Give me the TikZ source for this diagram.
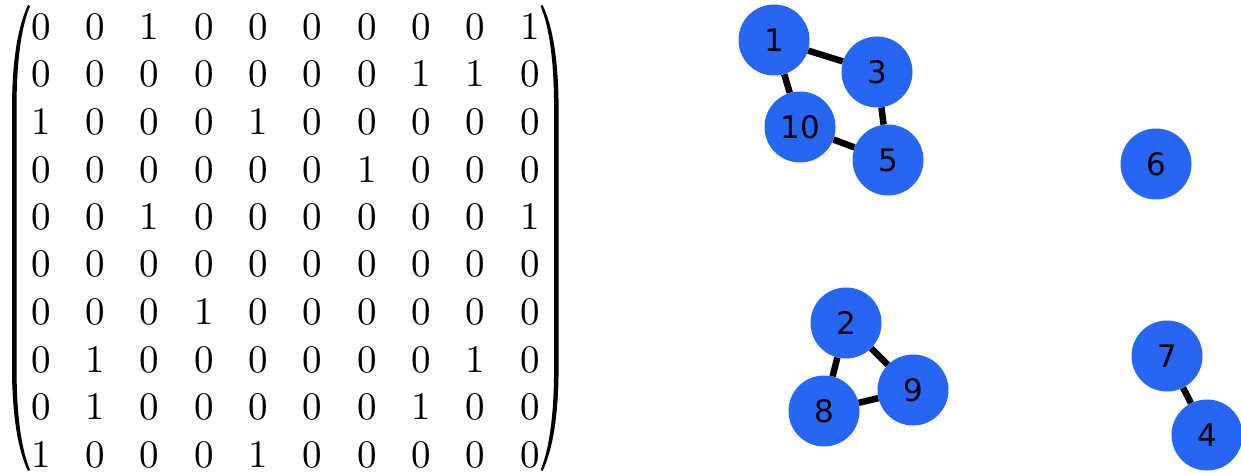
\documentclass[tikz,border=0pt]{standalone}
\usepackage{fontspec}
\usetikzlibrary{matrix}
\newfontfamily\labelfont{DejaVu Sans}
\newfontfamily\lmten{lmroman10-regular}[Extension=.otf]
\definecolor{nodeblue}{RGB}{38,102,242}
\begin{document}
\begin{tikzpicture}[x=1pt,y=-1pt,
  vert/.style={circle, fill=nodeblue, minimum size=71pt, inner sep=0pt,
    font=\labelfont\fontsize{31}{31}\selectfont, text=black},
  link/.style={line width=6.5pt, draw=black},
  entry/.style={minimum width=54.36pt, minimum height=47.2pt, inner sep=0pt,
    font=\lmten\fontsize{39}{39}\selectfont},
  paren/.style={fill=black}]
\useasboundingbox (0,0) rectangle (1241,473);
% matrix
\matrix (m) [matrix of nodes, nodes={entry}, column sep=0pt, row sep=0pt] at (285.4,240.6) {
0 & 0 & 1 & 0 & 0 & 0 & 0 & 0 & 0 & 1 \\
0 & 0 & 0 & 0 & 0 & 0 & 0 & 1 & 1 & 0 \\
1 & 0 & 0 & 0 & 1 & 0 & 0 & 0 & 0 & 0 \\
0 & 0 & 0 & 0 & 0 & 0 & 1 & 0 & 0 & 0 \\
0 & 0 & 1 & 0 & 0 & 0 & 0 & 0 & 0 & 1 \\
0 & 0 & 0 & 0 & 0 & 0 & 0 & 0 & 0 & 0 \\
0 & 0 & 0 & 1 & 0 & 0 & 0 & 0 & 0 & 0 \\
0 & 1 & 0 & 0 & 0 & 0 & 0 & 0 & 1 & 0 \\
0 & 1 & 0 & 0 & 0 & 0 & 0 & 1 & 0 & 0 \\
1 & 0 & 0 & 0 & 1 & 0 & 0 & 0 & 0 & 0 \\
};
% parentheses
\fill[paren] (28,5) .. controls (18,26) and (12,60) .. (12,110) -- (12,366)
  .. controls (12,416) and (18,450) .. (28,471) -- (30,470)
  .. controls (21,448) and (16.5,414) .. (16.5,366) -- (16.5,110)
  .. controls (16.5,62) and (21,28) .. (30,6) -- cycle;
\begin{scope}[xshift=570.6pt, xscale=-1]
\fill[paren] (28,5) .. controls (18,26) and (12,60) .. (12,110) -- (12,366)
  .. controls (12,416) and (18,450) .. (28,471) -- (30,470)
  .. controls (21,448) and (16.5,414) .. (16.5,366) -- (16.5,110)
  .. controls (16.5,62) and (21,28) .. (30,6) -- cycle;
\end{scope}
% graph
\node[vert] (n1) at (774,40) {1};
\node[vert] (n3) at (877,72) {3};
\node[vert] (n10) at (800,127) {10};
\node[vert] (n5) at (888,160) {5};
\node[vert] (n6) at (1156,164) {6};
\node[vert] (n2) at (846,323) {2};
\node[vert] (n9) at (913,390) {9};
\node[vert] (n8) at (824,411) {8};
\node[vert] (n7) at (1167,356) {7};
\node[vert] (n4) at (1207,435) {4};
\draw[link] (n1) -- (n3);
\draw[link] (n1) -- (n10);
\draw[link] (n3) -- (n5);
\draw[link] (n10) -- (n5);
\draw[link] (n2) -- (n8);
\draw[link] (n2) -- (n9);
\draw[link] (n8) -- (n9);
\draw[link] (n7) -- (n4);
\end{tikzpicture}
\end{document}
